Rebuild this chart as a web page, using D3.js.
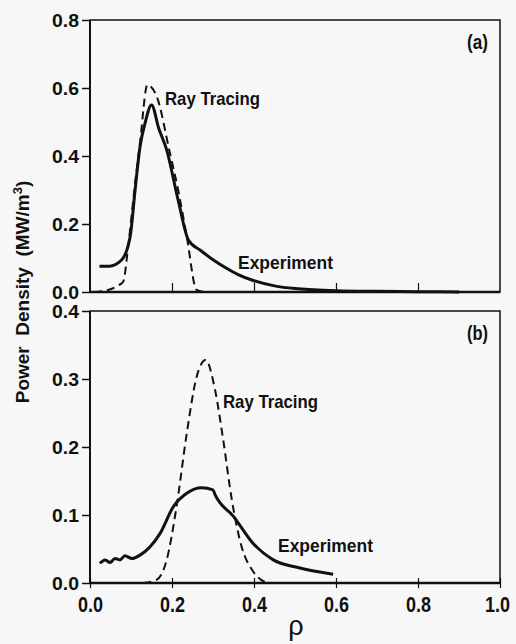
<!DOCTYPE html>
<html>
<head>
<meta charset="utf-8">
<script src="https://cdn.jsdelivr.net/npm/d3@7"></script>
<style>
  body { margin: 0; background: #f7f7f7; }
  svg { display: block; }
  text { fill: #111; }
</style>
</head>
<body>
<div id="viz-container"></div>
<script>
// panel (a)
const rhoExpA = [0.023, 0.047, 0.077, 0.098, 0.11, 0.122, 0.135, 0.150, 0.168, 0.187, 0.215, 0.24, 0.27, 0.30, 0.33, 0.36, 0.40, 0.45, 0.5, 0.6, 0.7, 0.8, 0.9];
const expA    = [0.076, 0.076, 0.094, 0.163, 0.30, 0.427, 0.50, 0.55, 0.48, 0.418, 0.27, 0.153, 0.122, 0.095, 0.072, 0.052, 0.033, 0.018, 0.010, 0.004, 0.002, 0.001, 0.0];
const rhoRayA = [0.01, 0.05, 0.07, 0.081, 0.093, 0.11, 0.122, 0.14, 0.163, 0.195, 0.215, 0.236, 0.26, 0.28];
const rayA    = [0.0, 0.008, 0.02, 0.03, 0.133, 0.32, 0.44, 0.609, 0.574, 0.408, 0.30, 0.163, 0.006, 0.0];

// panel (b)
const rhoExpB = [0.024, 0.037, 0.049, 0.061, 0.073, 0.085, 0.102, 0.122, 0.146, 0.171, 0.203, 0.236, 0.272, 0.300, 0.305, 0.350, 0.398, 0.447, 0.512, 0.593];
const expB    = [0.029, 0.034, 0.030, 0.036, 0.034, 0.040, 0.036, 0.041, 0.053, 0.073, 0.112, 0.132, 0.140, 0.137, 0.130, 0.098, 0.058, 0.034, 0.022, 0.013];
const rhoRayB = [0.13, 0.163, 0.187, 0.211, 0.236, 0.26, 0.282, 0.305, 0.325, 0.346, 0.37, 0.398, 0.431];
const rayB    = [0.0, 0.005, 0.034, 0.112, 0.22, 0.303, 0.328, 0.284, 0.21, 0.122, 0.053, 0.017, 0.0];

const xTicks = [0, 0.2, 0.4, 0.6, 0.8, 1.0];
const yTicksA = [0, 0.2, 0.4, 0.6, 0.8];
const yTicksB = [0, 0.1, 0.2, 0.3, 0.4];

const W = 516, H = 644;
const svg = d3.select('#viz-container')
            .append('svg')
                .attr('width', W)
                .attr('height', H);

const x = d3.scaleLinear().domain([0, 1]).range([90, 500]);
const yA = d3.scaleLinear().domain([0, 0.8]).range([292, 20]);
const yB = d3.scaleLinear().domain([0, 0.4]).range([583, 311]);

const sans = "'Liberation Sans', Arial, sans-serif";

const zip = (xs, ys) => xs.map((v, i) => [v, ys[i]]);

const drawPanel = (y, ticks, expX, expY, rayX, rayY, tag, labels, showX) => {
    const g = svg.append('g');

    // frame
    g.append('rect')
        .attr('x', x(0)).attr('y', y.range()[1])
        .attr('width', x(1) - x(0)).attr('height', y.range()[0] - y.range()[1])
        .attr('fill', 'none').attr('stroke', '#111').attr('stroke-width', 1.5);
    g.append('line')
        .attr('x1', x(0)).attr('x2', x(1))
        .attr('y1', y.range()[0]).attr('y2', y.range()[0])
        .attr('stroke', '#111').attr('stroke-width', 2.5);
    g.append('line')
        .attr('x1', x(0)).attr('x2', x(0))
        .attr('y1', y.range()[0]).attr('y2', y.range()[1])
        .attr('stroke', '#111').attr('stroke-width', 2);

    // y axis
    const yAxis = d3.axisLeft(y).tickValues(ticks).tickFormat(d3.format('.1f')).tickSize(8).tickPadding(3);
    const ya = g.append('g').attr('transform', `translate(${x(0)},0)`).call(yAxis);
    ya.select('.domain').remove();
    ya.selectAll('line').attr('stroke', '#111').attr('stroke-width', 1.5);
    ya.selectAll('text')
        .attr('font-family', sans).attr('font-weight', 'bold').attr('font-size', 19)
        .attr('textLength', 27).attr('lengthAdjust', 'spacingAndGlyphs')
        .attr('fill', '#111');

    // x axis
    if (showX) {
        const xAxis = d3.axisBottom(x).tickValues(xTicks).tickFormat(d3.format('.1f')).tickSize(5).tickPadding(8);
        const xa = g.append('g').attr('transform', `translate(0,${y.range()[0]})`).call(xAxis);
        xa.select('.domain').remove();
        xa.selectAll('line').attr('y1', -5).attr('stroke', '#111').attr('stroke-width', 1.2);
        xa.selectAll('text')
            .attr('font-family', sans).attr('font-weight', 'bold').attr('font-size', 22)
            .attr('textLength', 25).attr('lengthAdjust', 'spacingAndGlyphs')
            .attr('dx', d => d === 1 ? -3 : 0)
            .attr('fill', '#111');
    } else {
        const xAxis = d3.axisTop(x).tickValues(xTicks.slice(1, 5)).tickFormat('').tickSize(9);
        const xa = g.append('g').attr('transform', `translate(0,${y.range()[0]})`).call(xAxis);
        xa.select('.domain').remove();
        xa.selectAll('line').attr('stroke', '#111').attr('stroke-width', 1.2);
    }

    const line = d3.line()
        .x(d => x(d[0]))
        .y(d => y(d[1]))
        .curve(d3.curveMonotoneX);

    g.append('path')
        .attr('d', line(zip(rayX, rayY)))
        .attr('fill', 'none').attr('stroke', '#111')
        .attr('stroke-width', 2).attr('stroke-dasharray', '8,5');

    g.append('path')
        .attr('d', line(zip(expX, expY)))
        .attr('fill', 'none').attr('stroke', '#111')
        .attr('stroke-width', 3).attr('stroke-linejoin', 'round');

    g.append('text')
        .attr('x', 467).attr('y', y.range()[1] + 29)
        .attr('font-family', sans).attr('font-weight', 'bold').attr('font-size', 20)
        .attr('textLength', 21).attr('lengthAdjust', 'spacingAndGlyphs')
        .text(tag);

    labels.forEach(l => {
        g.append('text')
            .attr('x', l.x).attr('y', l.y)
            .attr('font-family', sans).attr('font-weight', 'bold').attr('font-size', 19)
            .attr('textLength', 95).attr('lengthAdjust', 'spacingAndGlyphs')
            .text(l.text);
    });
};

drawPanel(yA, yTicksA, rhoExpA, expA, rhoRayA, rayA, '(a)',
    [{text: 'Ray Tracing', x: 165, y: 105}, {text: 'Experiment', x: 238, y: 269}], false);
drawPanel(yB, yTicksB, rhoExpB, expB, rhoRayB, rayB, '(b)',
    [{text: 'Ray Tracing', x: 223, y: 408}, {text: 'Experiment', x: 278, y: 552}], true);

// axis titles
const yTitle = svg.append('text')
    .attr('transform', 'translate(29,292) rotate(-90)')
    .attr('text-anchor', 'middle')
    .attr('font-family', sans).attr('font-weight', 'bold').attr('font-size', 19);
yTitle.append('tspan').text('Power\u00a0 Density\u00a0 (MW/m');
yTitle.append('tspan').attr('dy', -7).attr('font-size', 13).text('3');
yTitle.append('tspan').attr('dy', 7).text(')');

svg.append('text')
    .attr('x', 296).attr('y', 635)
    .attr('text-anchor', 'middle')
    .attr('font-family', sans).attr('font-size', 27)
    .text('ρ');
</script>
</body>
</html>
